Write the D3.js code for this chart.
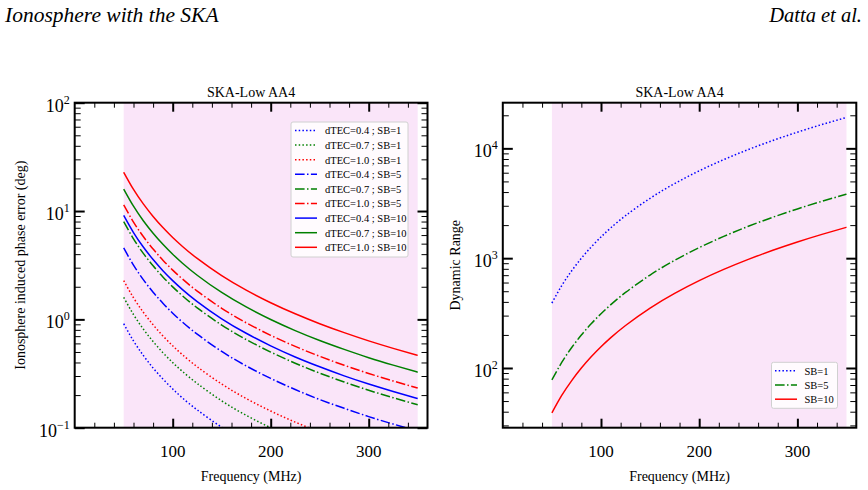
<!DOCTYPE html>
<html><head><meta charset="utf-8">
<script src="https://cdn.jsdelivr.net/npm/d3@7"></script>
<style>
body{margin:0;background:#fff}
svg{display:block}
</style>
</head><body>
<svg id="c" width="868" height="490" font-family="Liberation Serif, Times New Roman, serif" fill="#000"></svg>
<script>
// ---------------- data ----------------
const freqs = [50, 60, 70, 80, 90, 100, 110, 125, 150, 175, 200, 225, 250, 275, 300, 325, 350];

// Ionosphere induced phase error (deg)
const phase_d04_sb1  = [0.912, 0.633, 0.465, 0.356, 0.282, 0.228, 0.188, 0.146, 0.101, 0.074, 0.057, 0.045, 0.036, 0.030, 0.025, 0.0216, 0.019];
const phase_d07_sb1  = [1.596, 1.108, 0.814, 0.624, 0.493, 0.399, 0.330, 0.256, 0.177, 0.130, 0.0998, 0.0788, 0.064, 0.0528, 0.044, 0.0378, 0.033];
const phase_d10_sb1  = [2.28, 1.583, 1.163, 0.891, 0.704, 0.570, 0.471, 0.365, 0.253, 0.186, 0.1425, 0.1126, 0.0912, 0.0754, 0.0633, 0.054, 0.0465];
const phase_d04_sb5  = [4.56, 3.166, 2.326, 1.782, 1.408, 1.14, 0.942, 0.730, 0.506, 0.372, 0.285, 0.225, 0.182, 0.151, 0.1266, 0.108, 0.093];
const phase_d07_sb5  = [7.98, 5.54, 4.07, 3.12, 2.464, 1.995, 1.649, 1.2775, 0.886, 0.651, 0.499, 0.394, 0.319, 0.264, 0.2216, 0.189, 0.163];
const phase_d10_sb5  = [11.4, 7.915, 5.815, 4.455, 3.52, 2.85, 2.356, 1.825, 1.265, 0.93, 0.7125, 0.563, 0.456, 0.377, 0.3165, 0.270, 0.2325];
const phase_d04_sb10 = [9.12, 6.332, 4.652, 3.564, 2.816, 2.28, 1.884, 1.46, 1.012, 0.744, 0.57, 0.450, 0.365, 0.301, 0.253, 0.216, 0.186];
const phase_d07_sb10 = [15.96, 11.08, 8.14, 6.237, 4.928, 3.99, 3.298, 2.555, 1.771, 1.302, 0.9975, 0.788, 0.638, 0.528, 0.443, 0.378, 0.3255];
const phase_d10_sb10 = [22.8, 15.83, 11.63, 8.91, 7.04, 5.70, 4.711, 3.65, 2.53, 1.86, 1.425, 1.126, 0.912, 0.754, 0.633, 0.540, 0.465];

const phaseSeries = [phase_d04_sb1, phase_d07_sb1, phase_d10_sb1,
                     phase_d04_sb5, phase_d07_sb5, phase_d10_sb5,
                     phase_d04_sb10, phase_d07_sb10, phase_d10_sb10];
const phaseLabels = ["dTEC=0.4 ; SB=1", "dTEC=0.7 ; SB=1", "dTEC=1.0 ; SB=1",
                     "dTEC=0.4 ; SB=5", "dTEC=0.7 ; SB=5", "dTEC=1.0 ; SB=5",
                     "dTEC=0.4 ; SB=10", "dTEC=0.7 ; SB=10", "dTEC=1.0 ; SB=10"];

// Dynamic range
const dr_sb1  = [390, 561.6, 764.4, 998.4, 1263.6, 1560, 1887.6, 2437.5, 3510, 4777.5, 6240, 7897.5, 9750, 11797.5, 14040, 16477.5, 19110];
const dr_sb5  = [78, 112.3, 152.9, 199.7, 252.7, 312, 377.5, 487.5, 702, 955.5, 1248, 1579.5, 1950, 2359.5, 2808, 3295.5, 3822];
const dr_sb10 = [39, 56.2, 76.4, 99.8, 126.4, 156, 188.8, 243.75, 351, 477.75, 624, 789.8, 975, 1179.8, 1404, 1647.8, 1911];
const drSeries = [dr_sb1, dr_sb5, dr_sb10];
const drLabels = ["SB=1", "SB=5", "SB=10"];

// ticks / text
const xMajorTicks = [100, 200, 300];
const xMinorTicks = [20, 40, 60, 80, 120, 140, 160, 180, 220, 240, 260, 280, 320, 340];
const leftYMajor = [0.1, 1, 10, 100];
const rightYMajor = [100, 1000, 10000];
const panelTitle = "SKA-Low AA4";
const xLabel = "Frequency (MHz)";
const leftYLabel = "Ionosphere induced phase error (deg)";
const rightYLabel = "Dynamic Range";
const headerLeft = "Ionosphere with the SKA";
const headerRight = "Datta et al.";
const bandRange = [50, 350];

// ---------------- styles ----------------
const seriesColors = ["#0000ff", "#008000", "#ff0000", "#0000ff", "#008000", "#ff0000", "#0000ff", "#008000", "#ff0000"];
const dashDotted = "1.5,2.2";
const dashDashDot = "9.6,2.4,1.5,2.4";
const seriesDash = [dashDotted, dashDotted, dashDotted, dashDashDot, dashDashDot, dashDashDot, null, null, null];
const drColors = ["#0000ff", "#008000", "#ff0000"];
const drDash = [dashDotted, dashDashDot, null];
const band = "#fae5f9";
const FONT = "Liberation Serif, Times New Roman, serif";

const svg = d3.select("#c");

// header
svg.append("text").attr("x", 5).attr("y", 22).attr("font-family", FONT).attr("font-style", "italic")
  .attr("font-size", 21.5).text(headerLeft);
svg.append("text").attr("x", 862).attr("y", 22).attr("font-family", FONT).attr("font-style", "italic")
  .attr("font-size", 20.5).attr("text-anchor", "end").text(headerRight);

function minorLog(domain) {
  const out = [];
  const lo = Math.floor(Math.log10(domain[0])), hi = Math.ceil(Math.log10(domain[1]));
  for (let e = lo; e <= hi; e++) for (let m = 2; m <= 9; m++) {
    const v = m * Math.pow(10, e);
    if (v >= domain[0] && v <= domain[1]) out.push(v);
  }
  return out;
}

function drawPanel(opts) {
  const {id, left, right, top, bottom, yDomain, yMajor, series, colors, dashes, yLabel, yLabelX} = opts;
  const x = d3.scaleLinear().domain([0, 360]).range([left, right]);
  const y = d3.scaleLog().domain(yDomain).range([bottom, top]);
  const g = svg.append("g").attr("font-family", FONT);

  g.append("clipPath").attr("id", "clip" + id).append("rect")
    .attr("x", left).attr("y", top).attr("width", right - left).attr("height", bottom - top);

  // band
  g.append("rect").attr("x", x(bandRange[0])).attr("y", top)
    .attr("width", x(bandRange[1]) - x(bandRange[0])).attr("height", bottom - top).attr("fill", band);

  // lines
  const line = d3.line().x((d, i) => x(freqs[i])).y(d => y(d)).curve(d3.curveNatural);
  const lg = g.append("g").attr("clip-path", `url(#clip${id})`);
  series.forEach((s, i) => {
    lg.append("path").attr("d", line(s)).attr("fill", "none")
      .attr("stroke", colors[i]).attr("stroke-width", 1.5)
      .attr("stroke-dasharray", dashes[i]);
  });

  // ticks (inward, all four sides)
  const yMinor = minorLog(yDomain);
  const addAxis = (axis, tr, width) => {
    const a = g.append("g").attr("transform", tr).call(axis);
    a.select(".domain").remove();
    a.selectAll("text").remove();
    a.selectAll("line").attr("stroke", "#000").attr("stroke-width", width);
  };
  addAxis(d3.axisBottom(x).tickValues(xMinorTicks).tickSize(-5), `translate(0,${bottom})`, 1);
  addAxis(d3.axisBottom(x).tickValues(xMajorTicks).tickSize(-9), `translate(0,${bottom})`, 2);
  addAxis(d3.axisTop(x).tickValues(xMinorTicks).tickSize(-5), `translate(0,${top})`, 1);
  addAxis(d3.axisTop(x).tickValues(xMajorTicks).tickSize(-9), `translate(0,${top})`, 2);
  addAxis(d3.axisLeft(y).tickValues(yMinor).tickSize(-6), `translate(${left},0)`, 1);
  addAxis(d3.axisLeft(y).tickValues(yMajor).tickSize(-10), `translate(${left},0)`, 2);
  addAxis(d3.axisRight(y).tickValues(yMinor).tickSize(-6), `translate(${right},0)`, 1);
  addAxis(d3.axisRight(y).tickValues(yMajor).tickSize(-10), `translate(${right},0)`, 2);

  // spines
  g.append("rect").attr("x", left).attr("y", top).attr("width", right - left).attr("height", bottom - top)
    .attr("fill", "none").attr("stroke", "#000").attr("stroke-width", 2);

  // x tick labels
  xMajorTicks.forEach(v => {
    g.append("text").attr("x", x(v)).attr("y", bottom + 29).attr("text-anchor", "middle")
      .attr("font-size", 17).text(v);
  });
  // y tick labels (10^n)
  yMajor.forEach(v => {
    const e = Math.round(Math.log10(v));
    const t = g.append("text").attr("x", left - 5).attr("y", y(v) + 9).attr("text-anchor", "end").attr("font-size", 18);
    t.append("tspan").text("10");
    t.append("tspan").attr("dy", -8).attr("font-size", 12).text(e < 0 ? "\u2212" + (-e) : e);
  });

  // title, labels
  g.append("text").attr("x", (left + right) / 2).attr("y", top - 6).attr("text-anchor", "middle")
    .attr("font-size", 14).text(panelTitle);
  g.append("text").attr("x", (left + right) / 2).attr("y", bottom + 53).attr("text-anchor", "middle")
    .attr("font-size", 14).text(xLabel);
  g.append("text").attr("transform", `translate(${yLabelX},${(top + bottom) / 2}) rotate(-90)`)
    .attr("text-anchor", "middle").attr("font-size", 14).text(yLabel);

  return {x, y, g};
}

// left panel
drawPanel({id: "L", left: 74.7, right: 427.5, top: 102.7, bottom: 427.7,
  yDomain: [0.1, 100], yMajor: leftYMajor, series: phaseSeries, colors: seriesColors, dashes: seriesDash,
  yLabel: leftYLabel, yLabelX: 25});

// right panel
drawPanel({id: "R", left: 502.8, right: 856.3, top: 102.7, bottom: 427.7,
  yDomain: [28.6, 26040], yMajor: rightYMajor, series: drSeries, colors: drColors, dashes: drDash,
  yLabel: rightYLabel, yLabelX: 460});

// legends
function legend(x0, y0, w, h, labels, colors, dashes, rowH, lineX0, lineX1, textX) {
  const g = svg.append("g").attr("font-family", FONT);
  g.append("rect").attr("x", x0).attr("y", y0).attr("width", w).attr("height", h).attr("rx", 2)
    .attr("fill", "#fff").attr("fill-opacity", 0.85).attr("stroke", "#d0d0d0").attr("stroke-width", 1);
  labels.forEach((l, i) => {
    const yy = y0 + 8.5 + i * rowH;
    g.append("line").attr("x1", lineX0).attr("x2", lineX1).attr("y1", yy).attr("y2", yy)
      .attr("stroke", colors[i]).attr("stroke-width", 1.5).attr("stroke-dasharray", dashes[i]);
    g.append("text").attr("x", textX).attr("y", yy + 3.8).attr("font-size", 10.5).text(l);
  });
}
legend(291, 122, 117, 135, phaseLabels, seriesColors, seriesDash, 14.6, 295, 317, 325);
legend(771.5, 362.3, 66, 46, drLabels, drColors, drDash, 14.2, 775, 797, 804.5);
</script>
</body></html>
